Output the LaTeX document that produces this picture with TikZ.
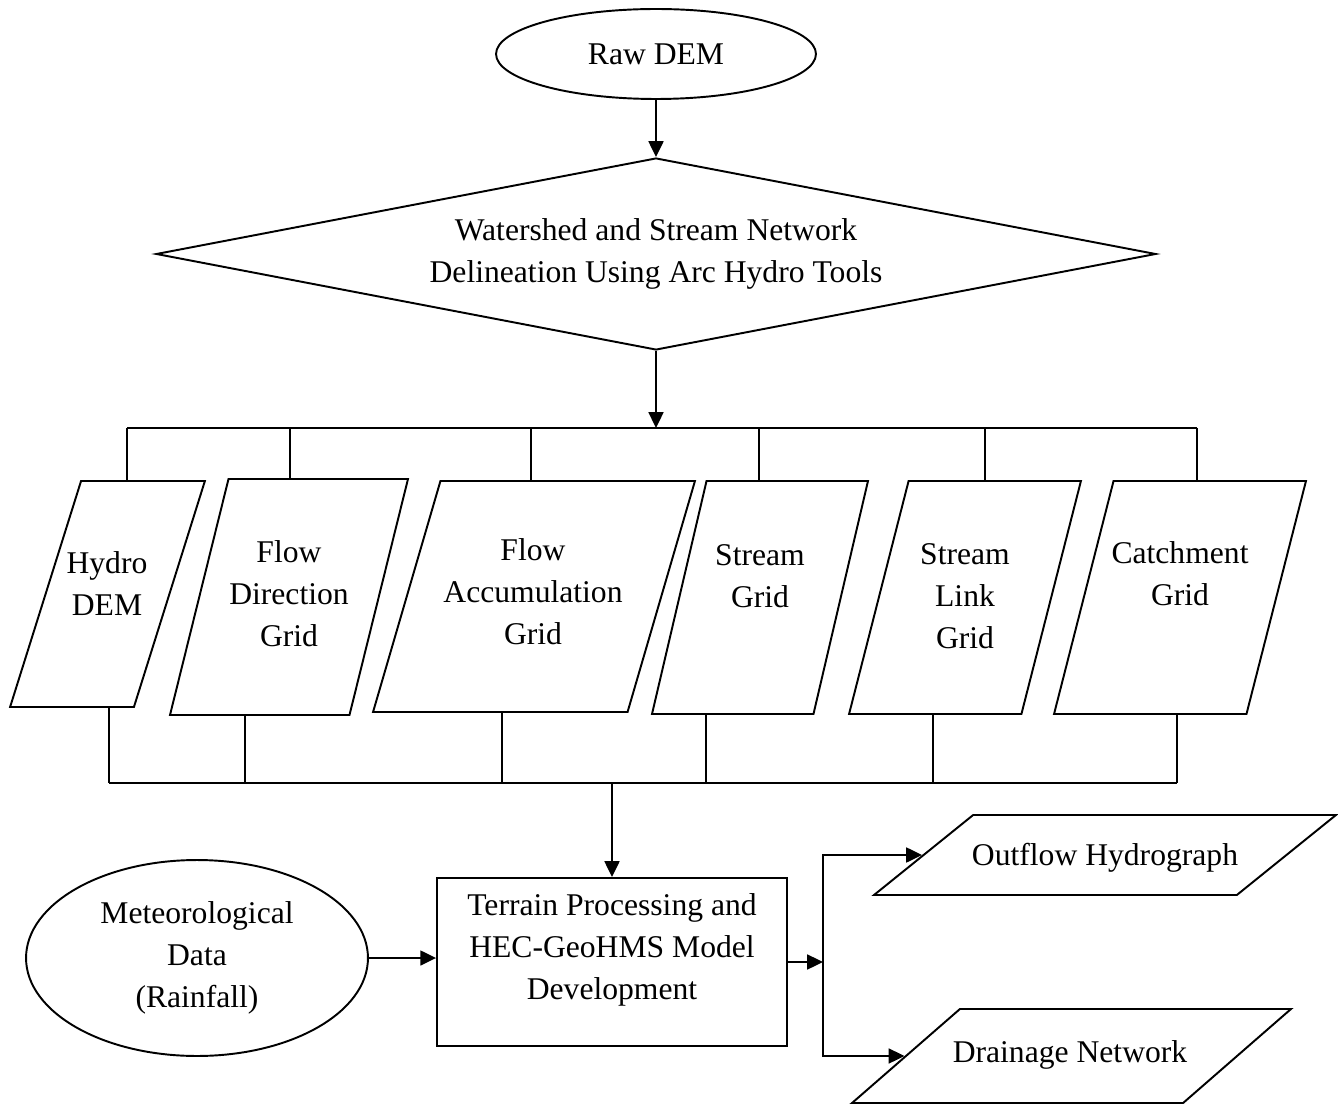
\documentclass[tikz,border=0pt]{standalone}
\usepackage{fontspec}
\setmainfont{Liberation Serif}
\usetikzlibrary{shapes.geometric,arrows.meta}

\tikzset{
    every node/.style={font=\fontsize{18}{23.9}\selectfont,align=center},
    arr/.style={-{Triangle[length=9pt,width=8.5pt]}},
    oval/.style={draw,ellipse,inner sep=0pt},
    para/.style={draw,trapezium,trapezium stretches=true,inner sep=2pt,trapezium left angle=#1,trapezium right angle=180-#1},
}

\begin{document}
\begin{tikzpicture}[x=0.02cm,y=-0.02cm,line width=1.1pt]
    \useasboundingbox(0,0)rectangle(1338,1104);

    \node[oval,minimum width=6.4cm,minimum height=1.8cm](raw)at(656,54){Raw DEM};
    \node[draw,diamond,shape aspect=5.2,minimum width=20cm,minimum height=3.84cm,inner sep=0pt](ws)at(656,254){Watershed and Stream Network\\Delineation Using Arc Hydro Tools};
    \draw[arr](raw)--(ws);

    \coordinate(t1)at(127,428);
    \coordinate(t2)at(290,428);
    \coordinate(t3)at(531,428);
    \coordinate(t4)at(759,428);
    \coordinate(t5)at(985,428);
    \coordinate(t6)at(1197,428);
    \draw[arr](ws.south)--(ws.south|-t1);
    \draw(t1)--(t6);

    \node[para=36.7,minimum width=3.9cm,minimum height=4.52cm](hd)at(107.5,594){};
    \node[para=64.2,minimum width=4.76cm,minimum height=4.72cm](fd)at(289,597){};
    \node[para=70.2,minimum width=6.44cm,minimum height=4.62cm](fa)at(534,596.5){};
    \node[para=63,minimum width=4.32cm,minimum height=4.66cm](sg)at(760,597.5){};
    \node[para=62.2,minimum width=4.64cm,minimum height=4.66cm](sl)at(965,597.5){};
    \node[para=65.9,minimum width=5.04cm,minimum height=4.66cm](cg)at(1180,597.5){};

    \node(hdtext)at(107,584){Hydro\\DEM};
    \node(fdtext)at(289,594){Flow\\Direction\\Grid};
    \node(fatext)at(533,591.5){Flow\\Accumulation\\Grid};
    \node(sgtext)at(760,576){Stream\\Grid};
    \node(sltext)at(965,596.5){Stream\\Link\\Grid};
    \node(cgtext)at(1180,573.5){Catchment\\Grid};

    \draw(t1)--(t1|-hd.north);
    \draw(t2)--(t2|-fd.north);
    \draw(t3)--(t3|-fa.north);
    \draw(t4)--(t4|-sg.north);
    \draw(t5)--(t5|-sl.north);
    \draw(t6)--(t6|-cg.north);

    \coordinate(b1)at(109,783);
    \coordinate(b2)at(245,783);
    \coordinate(b3)at(502,783);
    \coordinate(b4)at(706,783);
    \coordinate(b5)at(933,783);
    \coordinate(b6)at(1177,783);
    \draw(hd.south-|b1)--(b1);
    \draw(fd.south-|b2)--(b2);
    \draw(fa.south-|b3)--(b3);
    \draw(sg.south-|b4)--(b4);
    \draw(sl.south-|b5)--(b5);
    \draw(cg.south-|b6)--(b6);
    \draw(b1)--(b6);

    \node[draw,minimum width=7cm,minimum height=3.36cm,inner sep=0pt](hms)at(612,962){};
    \node(hmstext)at(612,950){Terrain Processing and\\HEC-GeoHMS Model\\Development};
    \draw[arr](hms.north|-b1)--(hms.north);

    \node[oval,minimum width=6.84cm,minimum height=3.92cm](met)at(197,958){Meteorological\\Data\\(Rainfall)};
    \draw[arr](met.east)--(met.east-|hms.west);

    \node[para=69.4,minimum width=9.24cm,minimum height=1.6cm](out)at(1105,855){};
    \node[para=64.2,minimum width=8.78cm,minimum height=1.88cm](dn)at(1071.5,1056){};
    \node(outtext)at(1105,858){Outflow Hydrograph};
    \node(dntext)at(1070,1055){Drainage Network};

    \coordinate(split)at(823,962);
    \draw[arr](hms.east)--(split);
    \draw[arr](split)|-(out.left side);
    \draw[arr](split)|-(dn.left side);
\end{tikzpicture}
\end{document}
